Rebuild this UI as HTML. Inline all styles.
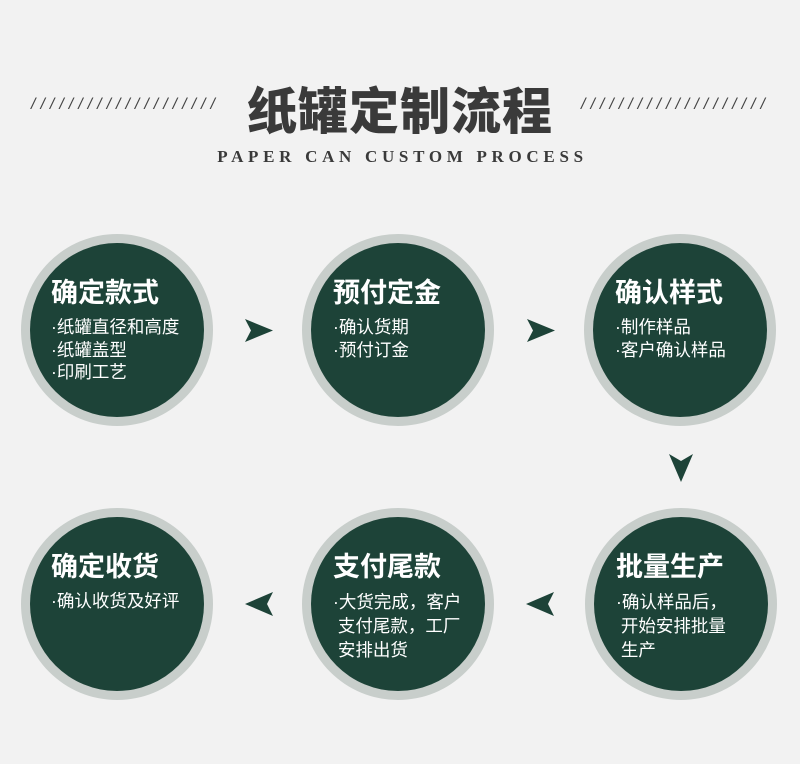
<!DOCTYPE html>
<html><head><meta charset="utf-8"><style>
body{margin:0;width:800px;height:764px;background:#f2f2f2;position:relative;overflow:hidden;font-family:"Liberation Sans","Noto Sans CJK SC",sans-serif}
.t{position:absolute;left:0;width:800px;text-align:center}
.sl{position:absolute;top:96px;font:italic 16px "Liberation Sans",sans-serif;color:#444;letter-spacing:5px;white-space:nowrap}
.c{position:absolute;width:192px;height:192px;border-radius:50%;background:#c8cecb}
.c i{position:absolute;left:9px;top:9px;width:174px;height:174px;border-radius:50%;background:#1d4338}
.tx{position:absolute;color:#fff;white-space:nowrap}
.tx b{display:block;font-size:27px;font-weight:bold;line-height:30px;margin-bottom:8px}
.tx div{font-size:17.5px;line-height:22.5px}
svg{position:absolute}
</style></head><body>
<div class="sl" style="left:31px">////////////////////</div>
<div class="sl" style="left:581px">////////////////////</div>
<div class="t" style="top:78px;font-size:50px;font-weight:900;color:#3a3a3a;letter-spacing:1px;font-family:'Noto Sans CJK SC',sans-serif;line-height:60px">纸罐定制流程</div>
<div class="t" style="top:146px;font:bold 17px 'Liberation Serif',serif;color:#3a3a3a;letter-spacing:4.7px;line-height:22px;padding-left:5px;box-sizing:border-box">PAPER CAN CUSTOM PROCESS</div>

<div class="c" style="left:21px;top:234px"><i></i></div>
<div class="c" style="left:302px;top:234px"><i></i></div>
<div class="c" style="left:584px;top:234px"><i></i></div>
<div class="c" style="left:21px;top:508px"><i></i></div>
<div class="c" style="left:302px;top:508px"><i></i></div>
<div class="c" style="left:585px;top:508px"><i></i></div>

<div class="tx" style="left:51px;top:278px"><b>确定款式</b><div>·纸罐直径和高度</div><div>·纸罐盖型</div><div>·印刷工艺</div></div>
<div class="tx" style="left:333px;top:278px"><b>预付定金</b><div>·确认货期</div><div>·预付订金</div></div>
<div class="tx" style="left:615px;top:278px"><b>确认样式</b><div>·制作样品</div><div>·客户确认样品</div></div>
<div class="tx" style="left:51px;top:552px"><b>确定收货</b><div>·确认收货及好评</div></div>
<div class="tx" style="left:333px;top:552px"><b>支付尾款</b><div style="line-height:24px">·大货完成，客户</div><div style="line-height:24px">&nbsp;支付尾款，工厂</div><div style="line-height:24px">&nbsp;安排出货</div></div>
<div class="tx" style="left:616px;top:552px"><b>批量生产</b><div style="line-height:24px">·确认样品后，</div><div style="line-height:24px">&nbsp;开始安排批量</div><div style="line-height:24px">&nbsp;生产</div></div>

<svg width="800" height="764" style="left:0;top:0">
<g fill="#1d4338">
<polygon points="245,319 273,330.5 245,342 251,330.5"/>
<polygon points="527,319 555,330.5 527,342 533,330.5"/>
<polygon points="669,454 681,461 693,454 681,482"/>
<polygon points="273,592 245,604 273,616 267,604"/>
<polygon points="554,592 526,604 554,616 548,604"/>
</g>
</svg>
</body></html>
